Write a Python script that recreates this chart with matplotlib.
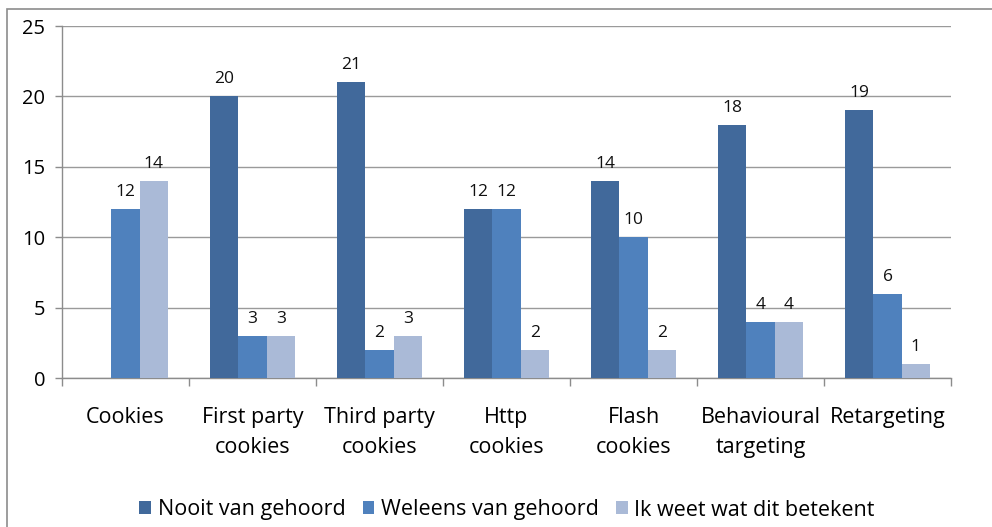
import matplotlib
matplotlib.use("Agg")
import matplotlib.pyplot as plt
import numpy as np
from matplotlib.patches import Rectangle

categories = ["Cookies", "First party\ncookies", "Third party\ncookies", "Http\ncookies",
              "Flash\ncookies", "Behavioural\ntargeting", "Retargeting"]
series_names = ["Nooit van gehoord", "Weleens van gehoord", "Ik weet wat dit betekent"]
nooit = [0, 20, 21, 12, 14, 18, 19]
weleens = [12, 3, 2, 12, 10, 4, 6]
weet = [14, 3, 3, 2, 2, 4, 1]
yticks = [0, 5, 10, 15, 20, 25]

colors = ["#41699B", "#4F81BD", "#AABAD7"]
font = "Open Sans"
plt.rcParams['font.family'] = [font, 'DejaVu Sans']

W, H = 992, 527
fig = plt.figure(figsize=(W / 100, H / 100), dpi=100)
ax = fig.add_axes([62 / W, 1 - 378 / H, (951 - 62) / W, (378 - 26) / H])

# outer chart border
fig.patches.append(Rectangle((7 / W, -0.05), 1.2, 1 - 9 / H + 0.05, transform=fig.transFigure,
                             fill=False, edgecolor="#8C8C8C", linewidth=1.2))

n = len(categories)
x = np.arange(n)
bw = 1 / 4.5
data = [nooit, weleens, weet]
for i, (vals, c, name) in enumerate(zip(data, colors, series_names)):
    xs = x + (i - 1) * bw
    ax.bar(xs, vals, width=bw, color=c, label=name, zorder=3)
    for xi, v in zip(xs, vals):
        if v == 0:
            continue
        ax.annotate(str(v), (xi, v), xytext=(0, 9), textcoords="offset pixels",
                    ha="center", va="bottom", fontsize=12.5, color="#111111")

ax.set_xlim(-0.5, n - 0.5)
ax.set_ylim(0, 25)
ax.set_yticks(yticks)
ax.set_yticklabels([str(t) for t in yticks], fontsize=14.5)
ax.yaxis.grid(True, color="#9A9A9A", linewidth=1.0, zorder=0)
ax.set_axisbelow(True)

ax.set_xticks(x)
ax.set_xticklabels(categories, fontsize=15.5, linespacing=1.55)
ax.tick_params(axis="x", length=0, pad=21)
ax.set_xticks(np.arange(n + 1) - 0.5, minor=True)
ax.tick_params(axis="x", which="minor", length=6, color="#8C8C8C", width=1)
ax.tick_params(axis="y", length=5, color="#8C8C8C", width=1, pad=7)

for s in ["top", "right"]:
    ax.spines[s].set_visible(False)
for s in ["left", "bottom"]:
    ax.spines[s].set_color("#8C8C8C")
    ax.spines[s].set_linewidth(1)

leg = fig.legend(loc="center", bbox_to_anchor=(507 / W, 1 - 510 / H), ncol=3, frameon=False,
                 fontsize=15.5, handlelength=0.55, handleheight=0.55, handletextpad=0.3,
                 columnspacing=0.8, borderpad=0)

fig.savefig("out.png", dpi=100)
